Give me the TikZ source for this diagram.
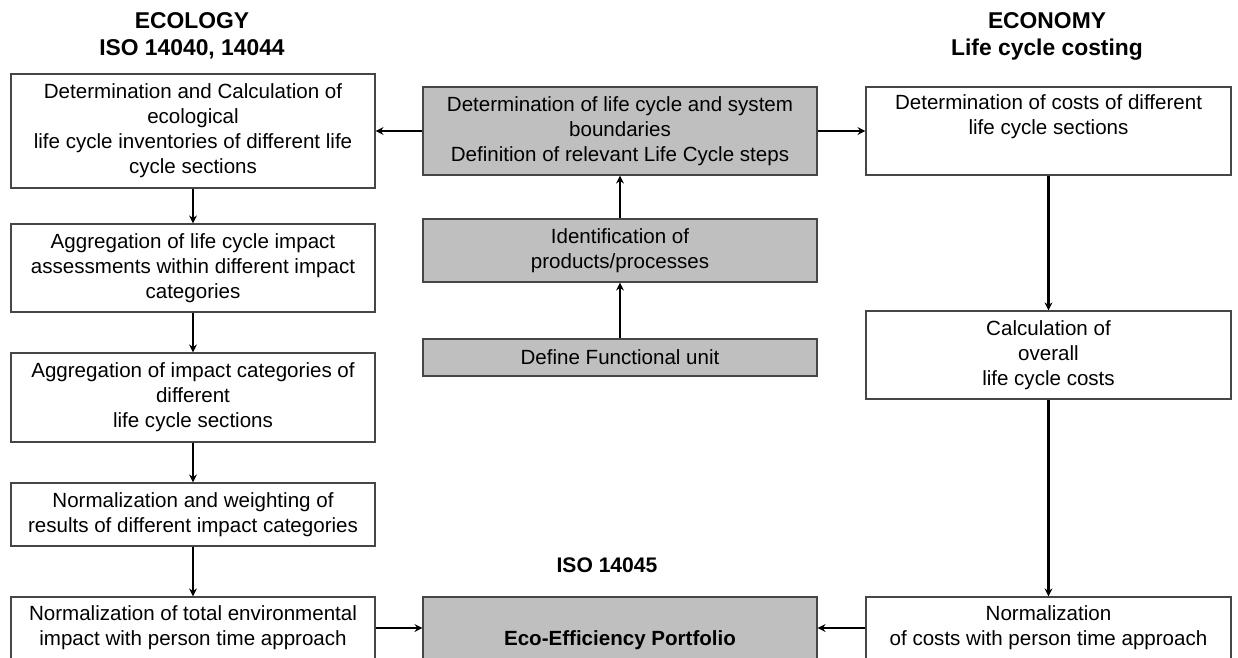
\documentclass[tikz,border=0pt]{standalone}
\usepackage{fontspec}
\setmainfont{Liberation Sans}
\usetikzlibrary{arrows.meta}
\definecolor{ecofill}{RGB}{191,191,191}
\definecolor{ecoline}{RGB}{70,70,70}
\tikzset{
    ecobox/.style={draw=ecoline, line width=0.7pt, fill=white, align=center, inner sep=1pt,
        font=\fontsize{11.7}{14.2}\selectfont},
    graybox/.style={ecobox, fill=ecofill},
    leftcol/.style={minimum width=7.28cm},
    midcol/.style={minimum width=7.88cm},
    rightcol/.style={minimum width=7.3cm},
    heading/.style={align=center, font=\bfseries\fontsize{13}{15.4}\selectfont},
    flow/.style={-{Stealth[length=4.5pt,width=4.5pt]}, line width=1.5pt}
}

\begin{document}
\begin{tikzpicture}[x=0.02cm, y=-0.02cm]
    \useasboundingbox (0,0) rectangle (1238,657);
    \clip (0,0) rectangle (1238,657);

    % Headings
    \node[heading] (ecology) at (192,36) {ECOLOGY\\ISO 14040, 14044};
    \node[heading] (economy) at (1047,36) {ECONOMY\\Life cycle costing};
    \node[heading, font=\bfseries\fontsize{12}{14}\selectfont] (iso) at (607,565) {ISO 14045};

    % Ecology column
    \node[ecobox, leftcol, minimum height=2.28cm] (inventory) at (193,131) {
        Determination and Calculation of\\ecological\\life cycle inventories of different life\\cycle sections};
    \node[ecobox, leftcol, minimum height=1.76cm] (assess) at (193,268) {
        Aggregation of life cycle impact\\assessments within different impact\\categories};
    \node[ecobox, leftcol, minimum height=1.78cm] (aggreg) at (193,397.5) {
        Aggregation of impact categories of\\different\\life cycle sections};
    \node[ecobox, leftcol, minimum height=1.26cm] (weight) at (193,514.5) {
        Normalization and weighting of\\results of different impact categories};
    \node[ecobox, leftcol, minimum height=1.24cm] (envnorm) at (193,628) {
        Normalization of total environmental\\impact with person time approach};

    % Middle column
    \node[graybox, midcol, minimum height=1.76cm] (boundary) at (620,131) {
        Determination of life cycle and system\\boundaries\\Definition of relevant Life Cycle steps};
    \node[graybox, midcol, minimum height=1.26cm] (ident) at (620,250.5) {
        Identification of\\products/processes};
    \node[graybox, midcol, minimum height=0.74cm] (funit) at (620,357.5) {Define Functional unit};
    \node[graybox, midcol, minimum height=1.72cm, font=\bfseries\fontsize{11.7}{14.2}\selectfont] (portfolio) at (620,640) {
        Eco-Efficiency Portfolio};

    % Economy column
    \node[ecobox, rightcol, minimum height=1.76cm] (costs) at (1048.5,131) {
        Determination of costs of different\\life cycle sections\\[4pt]\mbox{}};
    \node[ecobox, rightcol, minimum height=1.76cm] (overall) at (1048.5,355) {
        Calculation of\\overall\\life cycle costs};
    \node[ecobox, rightcol, minimum height=1.24cm] (costnorm) at (1048.5,628) {
        Normalization\\of costs with person time approach};

    % Connecting lines
    \draw[flow] (funit) -- (ident);
    \draw[flow] (ident) -- (boundary);
    \draw[flow] (boundary) -- (inventory);
    \draw[flow] (boundary) -- (costs);
    \draw[flow] (inventory) -- (assess);
    \draw[flow] (assess) -- (aggreg);
    \draw[flow] (aggreg) -- (weight);
    \draw[flow] (weight) -- (envnorm);
    \draw[flow] (costs) -- (overall);
    \draw[flow] (overall) -- (costnorm);
    \draw[flow] (envnorm) -- (envnorm -| portfolio.west);
    \draw[flow] (costnorm) -- (costnorm -| portfolio.east);
\end{tikzpicture}
\end{document}
